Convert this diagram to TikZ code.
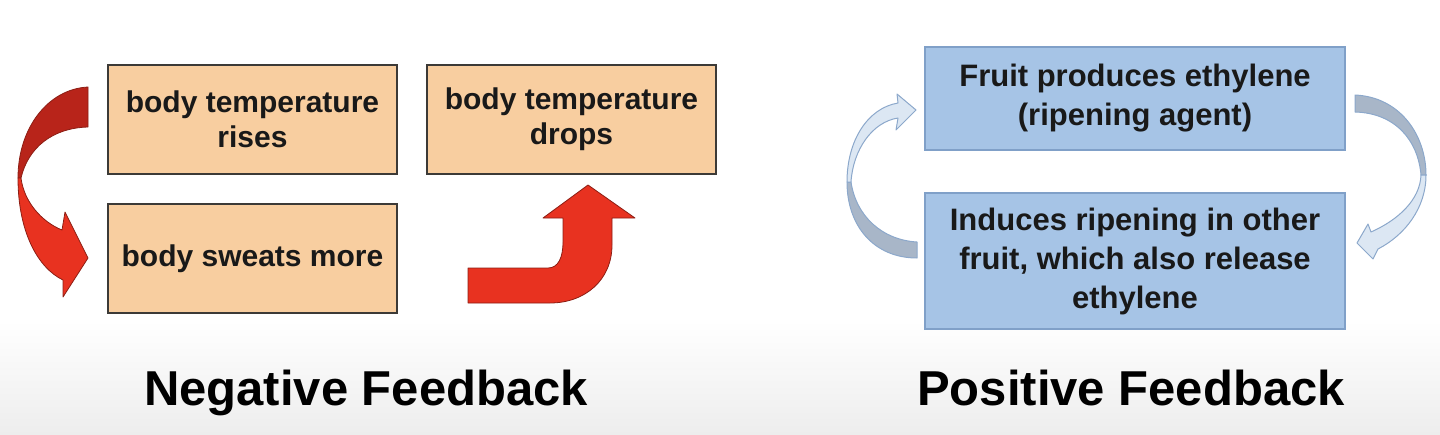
\documentclass[tikz,border=0pt]{standalone}
\usepackage{fontspec}
\setmainfont{Liberation Sans}
\usepackage{xcolor}
\definecolor{warmfill}{RGB}{248,206,160}
\definecolor{boxedge}{RGB}{60,58,55}
\definecolor{coolfill}{RGB}{166,196,230}
\definecolor{cooledge}{RGB}{128,160,200}
\definecolor{ink}{RGB}{25,25,25}
\definecolor{redlight}{RGB}{232,50,32}
\definecolor{reddark}{RGB}{184,36,26}
\definecolor{rededge}{RGB}{140,30,20}
\definecolor{bluelight}{RGB}{220,231,243}
\definecolor{bluedark}{RGB}{168,182,200}
\definecolor{blueedge}{RGB}{140,168,203}

\begin{document}
\begin{tikzpicture}[x=1pt, y=-1pt,
  warmbox/.style={draw=boxedge, line width=2.6pt, fill=warmfill, minimum width=289pt,
  minimum height=109pt, align=center, text=ink, font=\fontsize{30}{35}\selectfont\bfseries},
  coolbox/.style={draw=cooledge, line width=1.2pt, fill=coolfill, minimum width=420pt,
  align=center, text=ink, font=\fontsize{31}{39}\selectfont\bfseries},
  heading/.style={anchor=base, text=black, font=\fontsize{49}{58}\selectfont\bfseries},
  redfront/.style={fill=redlight, draw=rededge, line width=0.8pt, line join=round},
  redback/.style={fill=reddark, draw=rededge, line width=0.8pt, line join=round},
  bluefront/.style={fill=bluelight, draw=blueedge, line width=1pt, line join=round},
  blueback/.style={fill=bluedark, draw=blueedge, line width=1pt, line join=round}
]
\useasboundingbox (0,0) rectangle (1440,434);
\fill[top color=white, bottom color=gray!14] (0,320) rectangle (1440,434);

% negative feedback loop
\node[warmbox] (rises)  at (252.5,119.5) {body temperature\\rises};
\node[warmbox] (sweats) at (252.5,258.5) {body sweats more};
\node[warmbox] (drops)  at (571.5,119.5) {body temperature\\drops};

% curved arrow, twisted ribbon
\filldraw[redback] (88,87) .. controls (48,89) and (18,128) .. (18,178) -- (21,178)
  .. controls (28,148) and (52,128) .. (88,127) -- cycle;
\filldraw[redfront] (18,178) .. controls (18,232) and (38,268) .. (63,280) -- (63,297)
  -- (88,258) -- (65,212) -- (62,230) .. controls (42,222) and (24,202) .. (21,178) -- cycle;

% bent up arrow
\filldraw[redfront] (468,268) -- (548,268) .. controls (558,268) and (563,258) .. (563,242)
  -- (563,218) -- (543,218) -- (588,185) -- (635,218) -- (612,218) -- (612,245)
  .. controls (612,280) and (585,303) .. (550,303) -- (468,303) -- cycle;

% positive feedback loop
\node[coolbox, minimum height=103pt] (ethylene) at (1135,98.5) {Fruit produces ethylene\\(ripening agent)};
\node[coolbox, minimum height=136pt] (induces)  at (1135,261) {Induces ripening in other\\fruit, which also release\\ethylene};

% left return arrow
\filldraw[blueback] (917,242) -- (917,258) .. controls (874,258) and (847,226) .. (847,182)
  -- (851,182) .. controls (856,216) and (882,240) .. (917,242) -- cycle;
\filldraw[bluefront] (847,182) .. controls (847,140) and (868,108) .. (898,103) -- (897,94)
  -- (916,110) -- (896,130) -- (898,118) .. controls (872,122) and (853,150) .. (851,182) -- cycle;

% right arrow
\filldraw[blueback] (1355,95) .. controls (1400,97) and (1426,135) .. (1426,175) -- (1421,175)
  .. controls (1418,140) and (1395,113) .. (1355,112) -- cycle;
\filldraw[bluefront] (1426,175) .. controls (1426,208) and (1405,235) .. (1378,249) -- (1373,259)
  -- (1357,243) -- (1368,224) -- (1371,232) .. controls (1398,220) and (1420,200) .. (1421,175) -- cycle;

\node[heading] (negative) at (366,405) {Negative Feedback};
\node[heading] (positive) at (1131,405) {Positive Feedback};
\end{tikzpicture}
\end{document}
